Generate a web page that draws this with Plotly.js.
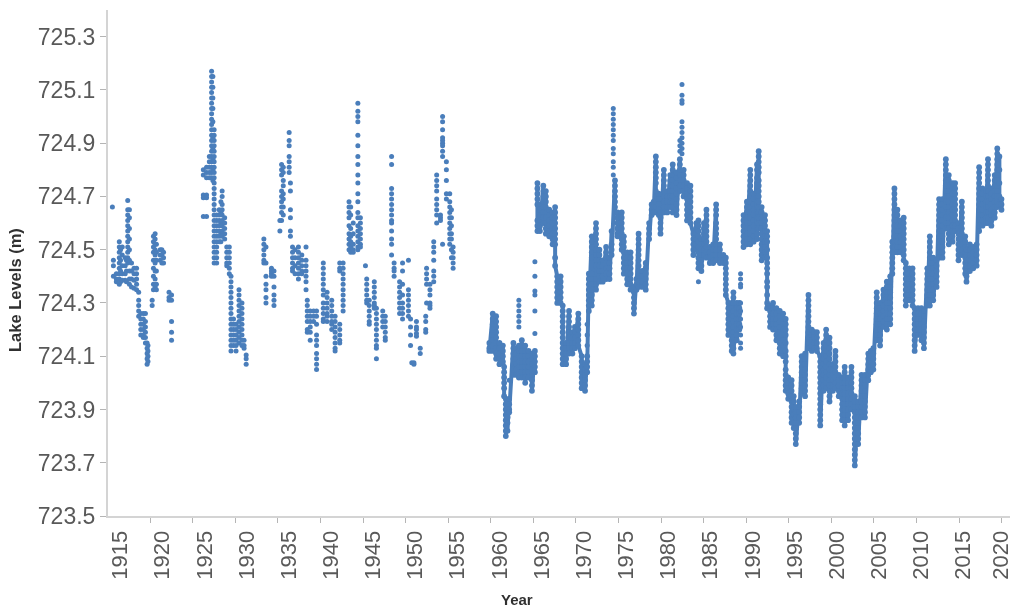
<!DOCTYPE html>
<html>
<head>
<meta charset="utf-8">
<script src="https://cdn.plot.ly/plotly-3.0.1.min.js"></script>
<style>html,body{margin:0;padding:0;background:#fff;overflow:hidden}#chart{filter:blur(0.55px)}</style>
</head>
<body>
<div id="chart" style="width:1011px;height:609px"></div>
<script>
const yearLabels = [1915,1920,1925,1930,1935,1940,1945,1950,1955,1960,1965,1970,1975,1980,1985,1990,1995,2000,2005,2010,2015,2020];
const labelPositions = [1915.25,1920.25,1925.25,1930.25,1935.25,1940.25,1945.25,1950.25,1955.25,1960.25,1965.25,1970.25,1975.25,1980.25,1985.25,1990.25,1995.25,2000.25,2005.25,2010.25,2015.25,2019.75];
const tickPositions = [1913.77,1918.82,1923.87,1928.92,1933.97,1939.02,1944.07,1949.12,1954.17,1959.22,1964.27,1969.32,1974.37,1979.42,1984.47,1989.52,1994.57,1999.62,2004.67,2009.72,2014.77,2019.82];
const levelLabels = [723.5,723.7,723.9,724.1,724.3,724.5,724.7,724.9,725.1,725.3];
// each entry: [year, [lake levels at that year]]
const levels1915 = [
[1914.33,[724.66]],[1914.45,[724.46,724.44,724.40]],[1914.8,[724.41,724.39,724.38]],
[1915.15,[724.53,724.51,724.49,724.47,724.45,724.43,724.41,724.39,724.37]],[1915.3,[724.5,724.46,724.42,724.38]],
[1915.5,[724.51,724.48,724.44,724.41,724.385]],[1915.85,[724.47,724.44,724.41,724.385]],[1916.0,[724.46,724.42,724.38]],
[1916.15,[724.685,724.65,724.63,724.61,724.59,724.57,724.55,724.53,724.51,724.49,724.47,724.45]],
[1916.35,[724.65,724.62,724.58,724.54,724.5,724.46,724.42,724.39,724.37]],[1916.6,[724.45,724.42,724.39,724.36]],
[1916.9,[724.43,724.41,724.385,724.355]],[1917.2,[724.43,724.41,724.39,724.37,724.35]],[1917.45,[724.34,724.31,724.29,724.27,724.25]],
[1917.7,[724.26,724.24,724.22,724.2,724.18]],[1918.0,[724.26,724.24,724.22,724.2,724.18,724.17]],[1918.25,[724.26,724.23,724.21,724.19,724.17,724.15]],
[1918.45,[724.15,724.13,724.11,724.09,724.07]],[1918.55,[724.14,724.12,724.1,724.08]],[1919.05,[724.31,724.29]],
[1919.2,[724.55,724.53,724.51,724.49,724.46,724.43,724.4,724.37,724.35]],[1919.4,[724.56,724.54,724.52,724.5,724.48,724.45,724.42,724.39,724.36]],
[1919.55,[724.52,724.49,724.46,724.42,724.37,724.35]],[1920.0,[724.5,724.48,724.46]],[1920.2,[724.5,724.48,724.45]],[1920.4,[724.49,724.47,724.45]],
[1921.05,[724.34,724.32,724.31]],[1921.35,[724.33,724.31,724.23,724.19,724.16]]
];
const levels1925 = [
[1925.12,[724.80,724.78,724.705,724.695,724.625]],[1925.5,[724.81,724.79,724.77,724.705,724.695,724.625]],[1925.83,[724.85,724.83,724.81,724.79,724.77]],
[1926.1,[725.17,725.15,725.13,725.11,725.09,725.07,725.05,725.03,725.01,724.99,724.97,724.95,724.93,724.91,724.89,724.87,724.85,724.83,724.81,724.79,724.77]],
[1926.25,[725.15,725.11,725.07,725.03,724.98,724.92,724.88,724.84,724.8,724.76]],
[1926.4,[724.95,724.93,724.91,724.89,724.87,724.85,724.83,724.81,724.79,724.77,724.75,724.73,724.71,724.69,724.67,724.65,724.63,724.61,724.59,724.57,724.55,724.53,724.51,724.49,724.47,724.45]],
[1926.7,[724.63,724.61,724.59,724.57,724.55,724.53,724.51,724.49,724.47,724.45]],[1927.0,[724.65,724.63,724.61,724.59,724.57,724.55,724.53]],
[1927.2,[724.68,724.64,724.6,724.56,724.53]],[1927.35,[724.72,724.70,724.67,724.65,724.63,724.61,724.59,724.57,724.55]],[1927.65,[724.62,724.6,724.58,724.56,724.54]],
[1927.9,[724.51,724.49,724.47,724.45,724.44]],[1928.2,[724.51,724.49,724.47,724.45,724.43,724.41]],
[1928.4,[724.4,724.38,724.36,724.34,724.32,724.3,724.28,724.26,724.24,724.22,724.2,724.18,724.16,724.14,724.12]],
[1928.7,[724.24,724.22,724.2,724.18,724.16,724.14]],[1929.0,[724.22,724.2,724.18,724.16,724.14,724.12]],
[1929.35,[724.35,724.33,724.31,724.29,724.27,724.25,724.23,724.21,724.19,724.17,724.15]],[1929.7,[724.3,724.28,724.26,724.24,724.22,724.2,724.18,724.16,724.14]],
[1929.95,[724.16,724.14,724.13]],[1930.2,[724.105,724.09,724.07]]
];
const levels1932 = [
[1932.3,[724.54,724.52,724.5,724.48,724.46,724.45]],[1932.55,[724.51,724.45,724.4,724.37,724.35,724.32,724.3]],[1933.2,[724.43,724.42,724.41,724.4]],
[1933.5,[724.42,724.4,724.36,724.33,724.31,724.29]],[1934.2,[724.61,724.57]],[1934.4,[724.82,724.8,724.78,724.72,724.7,724.68,724.66,724.64,724.61]],
[1934.6,[724.81,724.79,724.76,724.74,724.71,724.69,724.66,724.63]],[1935.3,[724.94,724.91,724.89,724.85,724.83,724.81,724.79]],
[1935.45,[724.75,724.72,724.65,724.62,724.57,724.55]],[1935.7,[724.51,724.49,724.47,724.45,724.43,724.42]],[1936.0,[724.5,724.47,724.44,724.41]],
[1936.4,[724.51,724.49,724.47,724.45,724.43,724.41,724.39]],[1936.8,[724.48,724.46,724.44,724.42,724.41]],[1937.3,[724.51,724.46,724.44,724.42,724.4,724.38,724.35]],
[1937.45,[724.31,724.29,724.27,724.25,724.23,724.2,724.19]],[1937.8,[724.27,724.25,724.23,724.21,724.19,724.16]],[1938.2,[724.27,724.25,724.23]],
[1938.55,[724.27,724.25,724.22,724.18,724.16,724.14,724.11,724.09,724.07,724.05]],[1939.35,[724.45,724.43,724.41,724.39,724.37,724.35,724.33,724.3,724.28,724.26,724.24,724.23]],
[1939.8,[724.34,724.32,724.3,724.28,724.26,724.25,724.23]],[1940.35,[724.31,724.29,724.27,724.25,724.23,724.22,724.2]],[1940.75,[724.25,724.23,724.21,724.19,724.17,724.15,724.13,724.12]],
[1941.3,[724.45,724.43,724.42,724.22,724.2,724.18,724.16,724.15]],[1941.7,[724.45,724.43,724.41,724.39,724.37,724.35,724.33,724.31,724.29,724.27]],
[1942.4,[724.68,724.66,724.64,724.62,724.59,724.56,724.54,724.52,724.5]],[1942.6,[724.66,724.63,724.58,724.55,724.53,724.51,724.49]],[1942.9,[724.6,724.56,724.52,724.5,724.49]],
[1943.45,[725.05,725.02,725.0,724.98,724.93,724.89,724.85,724.82,724.78,724.75,724.71,724.68,724.64,724.62,724.59,724.57,724.55,724.53,724.51,724.5]],
[1943.75,[724.62,724.6,724.58,724.56,724.54,724.52,724.51]],[1944.35,[724.44]],[1944.5,[724.39,724.37,724.35,724.33,724.31,724.3]],
[1944.8,[724.31,724.29,724.27,724.25,724.23,724.22]],[1945.4,[724.38,724.36,724.34,724.32,724.3,724.29,724.28]],[1945.65,[724.28,724.26,724.24,724.22,724.2,724.18,724.16,724.14,724.13,724.09]],
[1946.4,[724.27,724.25,724.23,724.21]],[1946.7,[724.25,724.23,724.21,724.19,724.17,724.16]],[1947.45,[724.85,724.82,724.73,724.71,724.69,724.67,724.65,724.63,724.61,724.6,724.57,724.54,724.52,724.48]],
[1947.75,[724.45,724.43,724.42,724.4]],[1948.4,[724.38,724.36,724.34,724.32,724.3,724.28,724.26]],[1948.75,[724.45,724.42,724.37,724.33,724.3,724.28,724.26,724.24]],
[1949.45,[724.46,724.35,724.33,724.31,724.29,724.27,724.25]],[1949.7,[724.24,724.21,724.18,724.14]],[1949.85,[724.075]],[1950.1,[724.07,724.075]],[1950.4,[724.185,724.175,724.23,724.21,724.2]],
[1950.85,[724.13,724.11]],[1951.5,[724.25,724.23,724.2,724.19]],[1951.6,[724.43,724.41,724.39,724.37,724.3]],[1952,[724.3,724.29,724.28,724.35,724.33,724.37]],
[1952.45,[724.53,724.51,724.49,724.46,724.42,724.4,724.38]],[1952.8,[724.78,724.76,724.74,724.72,724.69,724.67,724.65,724.63,724.6]],[1953.25,[724.63,724.62,724.61]],
[1953.5,[725.0,724.98,724.95,724.92,724.91,724.9,724.89,724.87,724.85,724.52]],[1953.95,[724.83,724.8,724.76,724.71,724.69]],
[1954.35,[724.71,724.68,724.66,724.64,724.62,724.6,724.58,724.56,724.54,724.52]],[1954.55,[724.65,724.62,724.59,724.56,724.54,724.5,724.47]],[1954.75,[724.51,724.49,724.47,724.45,724.43]]
];
// isolated readings in the otherwise dense years
const levelsIsolated = [
[1962.55,[724.31,724.29,724.27,724.25,724.23,724.21]],[1964.45,[724.455,724.4,724.345,724.33,724.27,724.185]],[1970.65,[724.22,724.18,724.14]],
[1973.75,[725.03,725.01,724.99,724.97,724.95,724.93,724.91,724.88,724.86,724.83,724.81,724.78]],
[1981.65,[724.91,724.89,724.87]],[1981.9,[725.12,725.08,725.06,725.05,724.98,724.96,724.94,724.92,724.9,724.88,724.86]],[1983.85,[724.38]],[1961.4,[724.01]]
];
const levels1988 = [[1988.85,[724.41,724.39,724.37,724.36,724.3,724.27,724.24,724.21,724.18,724.15,724.13]]];
const levels1959 = [
[1959.05,[724.15,724.13,724.12]],[1959.45,[724.26,724.24,724.22,724.2,724.18,724.16,724.14,724.12]],[1959.85,[724.25,724.23,724.21,724.19,724.17,724.15,724.13,724.11,724.09]],
[1960.25,[724.15,724.13,724.11,724.09,724.07]],[1960.65,[724.14,724.12,724.1,724.08]],[1960.8,[724.06,724.04,724.02,724.0,723.98,723.95]],
[1961.0,[723.94,723.92,723.9,723.88,723.86,723.84,723.82,723.8]],[1961.2,[723.93,723.91,723.89,723.87,723.85,723.82]],[1961.4,[723.94,723.92,723.9,723.89]],
[1961.9,[724.15,724.13,724.11,724.09,724.07,724.05,724.03]],[1962.2,[724.13,724.11,724.09,724.07,724.05,724.03]],[1962.55,[724.14,724.12,724.1,724.08,724.06,724.04,724.02]],
[1962.9,[724.16,724.14,724.12,724.1,724.08,724.06,724.04,724.02]],[1963.3,[724.14,724.12,724.1,724.08,724.06,724.04,724.02,724.0]],[1963.7,[724.12,724.1,724.08,724.06,724.04,724.02]],
[1964.1,[724.11,724.09,724.07,724.05,724.03,724.01,723.99,723.97]],[1964.45,[724.12,724.1,724.08,724.06,724.04]]
];
const levels1965 = [
[1964.75,[724.75,724.73,724.71,724.69,724.67,724.61,724.59,724.57]],[1965.05,[724.67,724.65,724.63,724.61,724.59,724.57]],[1965.45,[724.74,724.72,724.7,724.68,724.66,724.64,724.62,724.6]],
[1965.75,[724.72,724.7,724.68,724.66,724.64,724.62,724.6,724.58,724.56]],[1966.15,[724.65,724.63,724.61,724.59,724.57,724.55]],[1966.55,[724.64,724.62,724.6,724.58,724.56,724.54,724.52]],
[1966.85,[724.66,724.64,724.62,724.6,724.58,724.56,724.54,724.52,724.47,724.44]],[1967.1,[724.4,724.38,724.36,724.34,724.32,724.3]],[1967.5,[724.4,724.38,724.36,724.34,724.32,724.3]],
[1967.75,[724.29,724.27,724.25,724.23,724.21,724.19,724.17,724.15,724.13,724.11,724.09,724.07]],[1968.15,[724.15,724.13,724.11,724.09,724.07]],
[1968.5,[724.27,724.25,724.23,724.21,724.19,724.17,724.15,724.13,724.11]],[1968.9,[724.19,724.17,724.15,724.13,724.11]],[1969.2,[724.21,724.19,724.17,724.15,724.13]],
[1969.6,[724.26,724.24,724.22,724.2,724.18,724.16,724.14]],[1970.0,[724.1,724.08,724.06,724.04,724.02,724.0,723.98]],[1970.4,[724.07,724.05,724.03,724.01,723.99,723.97]],
[1970.65,[724.1,724.08,724.06,724.04]],[1970.85,[724.41,724.39,724.37,724.35,724.33,724.31,724.29,724.27]],[1971.2,[724.55,724.53,724.51,724.49,724.47,724.41,724.39,724.37,724.35,724.33,724.31,724.29]],
[1971.7,[724.6,724.58,724.56,724.54,724.52,724.5,724.48,724.46,724.44,724.39,724.37,724.35]],[1972.1,[724.5,724.48,724.46,724.44,724.42,724.4,724.38]],[1972.5,[724.46,724.44,724.42,724.4,724.38]],
[1972.9,[724.51,724.49,724.47,724.45,724.43,724.41,724.39]],[1973.3,[724.47,724.45,724.43,724.41,724.39]],[1973.55,[724.57,724.52,724.5,724.48]],
[1973.95,[724.76,724.74,724.72,724.7,724.68,724.66,724.64]],
[1974.25,[724.64,724.62,724.6,724.58,724.56,724.55]],[1974.75,[724.64,724.62,724.6,724.58,724.56,724.54,724.52,724.5]],[1975.0,[724.55,724.53,724.51,724.49,724.47,724.45,724.43,724.41]],
[1975.4,[724.49,724.47,724.45,724.43,724.41,724.39,724.37]],[1975.8,[724.49,724.47,724.45,724.43,724.41,724.39,724.37,724.35]],[1976.2,[724.36,724.34,724.32,724.3,724.28,724.26]],
[1976.5,[724.39,724.37,724.35]],[1976.75,[724.56,724.54,724.52,724.5,724.48,724.46,724.44,724.42,724.4,724.38,724.36]],[1977.2,[724.42,724.4,724.38,724.36]],
[1977.6,[724.45,724.43,724.41,724.39,724.37,724.35]],[1978.0,[724.6,724.58,724.56,724.54]],[1978.3,[724.67,724.65,724.63]],[1978.55,[724.68,724.66,724.64]],
[1978.8,[724.85,724.83,724.81,724.79,724.77,724.75,724.72,724.7,724.68,724.66,724.64]],[1979.15,[724.71,724.69,724.67,724.65,724.63]],[1979.35,[724.64,724.62,724.6,724.58,724.56]],
[1979.75,[724.8,724.78,724.76,724.74,724.72,724.7,724.68,724.66,724.64]],[1980.15,[724.72,724.7,724.68,724.66,724.64]],[1980.5,[724.78,724.76,724.74,724.72,724.7,724.68,724.66]],
[1980.8,[724.82,724.8,724.78,724.76,724.74,724.72,724.7,724.68,724.66,724.64]],[1981.25,[724.79,724.77,724.75,724.73,724.71,724.69,724.67,724.65,724.63]],
[1981.65,[724.84,724.82,724.8,724.78,724.76,724.74,724.72]],
[1982.1,[724.8,724.78,724.76,724.74,724.72,724.7]],[1982.5,[724.75,724.73,724.71,724.69,724.67,724.65,724.63,724.61]],[1982.9,[724.74,724.72,724.7,724.68,724.66,724.64,724.62,724.6]],
[1983.25,[724.56,724.54,724.52,724.5,724.48]],[1983.6,[724.6,724.58,724.56,724.54,724.52,724.5]],[1983.85,[724.61,724.59,724.57,724.55,724.53,724.51,724.49,724.47,724.45,724.43]],
[1984.2,[724.54,724.52,724.5,724.48,724.46,724.44,724.42]],[1984.5,[724.6,724.58,724.56,724.54,724.52,724.5,724.48]],[1984.8,[724.65,724.63,724.61,724.59,724.57,724.55,724.53,724.51,724.49,724.47]],
[1985.2,[724.51,724.49,724.47,724.45]],[1985.6,[724.52,724.5,724.48,724.46,724.45]],[1985.95,[724.67,724.65,724.63,724.6,724.58,724.56,724.54,724.52,724.5,724.48,724.46]],
[1986.4,[724.52,724.5,724.48,724.46,724.45]],[1986.8,[724.48,724.46,724.45]],[1987.1,[724.47,724.45,724.43,724.41,724.39,724.37,724.35,724.33]],[1987.4,[724.3,724.28,724.26,724.24,724.22,724.2,724.18]],
[1987.8,[724.3,724.28,724.26,724.24,724.22,724.2,724.18,724.16,724.14,724.12]],[1988.0,[724.34,724.32,724.3,724.27,724.25,724.23,724.21,724.19,724.17,724.15,724.13,724.11]],
[1988.4,[724.3,724.28,724.26,724.24,724.22,724.2,724.18,724.16]],[1988.7,[724.3,724.28,724.26,724.24,724.22,724.2]]
];
const levels1989 = [
[1989.2,[724.63,724.61,724.59,724.57,724.55,724.53,724.51]],[1989.6,[724.68,724.66,724.64,724.62,724.6,724.58,724.56,724.54,724.52]],
[1990.0,[724.8,724.78,724.76,724.74,724.72,724.7,724.68,724.66,724.64,724.62,724.6,724.58,724.56,724.54,724.52]],[1990.4,[724.71,724.69,724.67,724.65,724.63,724.61,724.59,724.57,724.55,724.53]],
[1990.8,[724.82,724.8,724.77,724.75,724.72,724.7,724.68,724.66,724.64,724.62,724.6,724.58,724.56,724.54]],[1991.0,[724.87,724.85,724.83,724.81,724.79,724.76,724.74,724.72,724.7,724.68,724.66,724.64,724.62,724.6,724.58]],
[1991.35,[724.66,724.64,724.62,724.6,724.58,724.56,724.54,724.52,724.5,724.48,724.46]],[1991.75,[724.63,724.61,724.59,724.57,724.55,724.53,724.51,724.49,724.47]],
[1992.0,[724.57,724.55,724.53,724.5,724.47,724.45,724.43,724.41,724.38,724.36,724.33,724.3,724.28]],[1992.35,[724.29,724.27,724.25,724.23,724.21]],[1992.7,[724.3,724.28,724.26,724.24,724.22,724.2]],
[1993.1,[724.28,724.26,724.24,724.22,724.2,724.18,724.16]],[1993.5,[724.27,724.25,724.23,724.21,724.19,724.17,724.15,724.13,724.11]],[1993.9,[724.26,724.24,724.22,724.2,724.18,724.16,724.14,724.12,724.1]],
[1994.2,[724.24,724.22,724.2,724.18,724.15,724.12,724.1,724.08,724.05,724.03,724.01,723.99,723.97]],[1994.5,[724.02,724.0,723.98,723.96,723.94]],[1994.9,[724.01,723.99,723.97,723.95,723.93,723.91,723.89,723.87,723.85]],
[1995.15,[723.95,723.93,723.9,723.88,723.85,723.83]],[1995.4,[723.91,723.89,723.87,723.85,723.83,723.81,723.79,723.77]],[1995.8,[723.93,723.91,723.89,723.87,723.85]],
[1996.1,[724.1,724.08,724.06,724.04,724.02,724.0,723.98,723.96]],[1996.5,[724.11,724.09,724.07,724.05,724.03,724.01,723.99,723.97,723.95]],
[1996.9,[724.33,724.31,724.29,724.27,724.25,724.23,724.21,724.19,724.17,724.15,724.13]],[1997.3,[724.2,724.18,724.16,724.14,724.12]],[1997.6,[724.19,724.17,724.15,724.13]],[1997.9,[724.19,724.17,724.15,724.13,724.12]],
[1998.3,[724.1,724.08,724.06,724.04,724.02,724.0,723.98,723.96,723.94,723.92,723.9,723.88,723.86,723.84]],[1998.7,[724.15,724.13,724.11,724.09,724.07,724.05,724.03,724.01,723.99,723.97]],
[1999.0,[724.2,724.18,724.16,724.14,724.12,724.1,724.08,724.06,724.04,724.02,724.0,723.98]],[1999.4,[724.17,724.15,724.13,724.11,724.09,724.07,724.05,724.03,724.01,723.99,723.97,723.95,723.93]],
[1999.8,[724.07,724.05,724.03,724.01,723.99,723.97]],[2000.1,[724.12,724.1,724.08,724.06,724.04,724.02,724.0,723.98]],[2000.5,[724.03,724.01,723.99,723.97,723.95]],
[2000.9,[724.02,724.0,723.98,723.96,723.94,723.92,723.9,723.88,723.86]],[2001.2,[724.06,724.04,724.02,724.0,723.98,723.96,723.94,723.92,723.9,723.88,723.86,723.84]],
[2001.6,[724.02,724.0,723.98,723.96,723.94,723.92,723.9,723.88,723.86]],[2002.0,[724.06,724.04,724.02,724.0,723.98,723.96,723.94,723.92,723.9]],
[2002.4,[723.95,723.93,723.91,723.89,723.87,723.85,723.83,723.81,723.79,723.77,723.75,723.73,723.71,723.69]],[2002.8,[723.93,723.91,723.89,723.87,723.85,723.83,723.81,723.79,723.77]],
[2003.2,[724.03,724.01,723.99,723.97,723.95,723.93,723.91,723.89,723.87]],[2003.6,[724.03,724.01,723.99,723.97,723.95,723.93,723.91,723.89,723.87]],[2004.0,[724.11,724.09,724.07,724.05,724.03,724.01]],
[2004.3,[724.12,724.1,724.08,724.06,724.04]],[2004.6,[724.13,724.11,724.09,724.07,724.05]],[2005.0,[724.34,724.32,724.3,724.28,724.26,724.24,724.22,724.2,724.18,724.16]],
[2005.4,[724.3,724.28,724.26,724.24,724.22,724.2,724.18,724.16,724.14]],[2005.8,[724.35,724.33,724.31,724.29,724.27,724.25,724.23,724.21]],[2006.2,[724.38,724.36,724.34,724.32,724.3,724.28,724.26,724.24,724.22,724.2]],
[2006.6,[724.4,724.38,724.36,724.34,724.32,724.3,724.28,724.26,724.24,724.22]],[2006.85,[724.53,724.51,724.49,724.47,724.45,724.43,724.41]],
[2007.1,[724.73,724.71,724.69,724.67,724.65,724.63,724.61,724.59,724.57,724.55,724.53,724.51,724.49]],[2007.45,[724.65,724.63,724.61,724.59,724.57,724.55,724.53,724.51,724.49]],
[2007.85,[724.61,724.59,724.57,724.55,724.53,724.51,724.49]],[2008.2,[724.62,724.6,724.58,724.56,724.54,724.52,724.5,724.48,724.46]],[2008.45,[724.45,724.43,724.41,724.39,724.37,724.35,724.33,724.31,724.29]],
[2008.85,[724.43,724.41,724.39,724.37,724.35,724.33,724.31]],[2009.25,[724.43,724.41,724.39,724.37,724.35,724.33,724.31,724.29]],[2009.5,[724.28,724.26,724.24,724.22,724.2,724.18,724.16,724.14,724.12]],
[2009.9,[724.28,724.26,724.24,724.22,724.2,724.18]],[2010.3,[724.28,724.26,724.24,724.22,724.2,724.18,724.16]],[2010.6,[724.27,724.25,724.23,724.21,724.19,724.17,724.15,724.13]],
[2011.0,[724.43,724.41,724.39,724.37,724.35,724.33,724.31,724.29]],[2011.3,[724.55,724.53,724.51,724.49,724.47,724.45,724.43,724.41,724.39,724.37,724.35,724.33,724.31,724.29]],
[2011.7,[724.47,724.45,724.43,724.41,724.39,724.37,724.35,724.33,724.31]],[2012.1,[724.46,724.44,724.42,724.4,724.38,724.36]],
[2012.4,[724.69,724.67,724.65,724.63,724.61,724.59,724.57,724.55,724.53,724.51,724.49,724.47]],[2012.8,[724.69,724.67,724.65,724.63,724.61,724.59,724.57,724.55,724.53,724.51,724.49,724.47]],
[2013.2,[724.84,724.82,724.8,724.78,724.76,724.74,724.72,724.7,724.68,724.66,724.64,724.62,724.6,724.58]],[2013.55,[724.78,724.76,724.74,724.72,724.7,724.68,724.66,724.64,724.62,724.6,724.58,724.56,724.54,724.52]],
[2014.0,[724.75,724.73,724.71,724.69,724.67,724.65,724.63,724.61,724.59,724.57,724.55,724.53]],[2014.3,[724.75,724.73,724.71,724.69,724.67,724.65,724.63,724.61,724.59,724.57]],
[2014.7,[724.6,724.58,724.56,724.54,724.52,724.5,724.48,724.46]],[2015.1,[724.68,724.66,724.64,724.62,724.6,724.58,724.56,724.54,724.52,724.5,724.48]],[2015.5,[724.55,724.53,724.51,724.49,724.47,724.45,724.43,724.41]],
[2015.65,[724.5,724.48,724.46,724.44,724.42,724.4,724.38]],[2016.05,[724.52,724.5,724.48,724.46,724.44,724.42]],[2016.45,[724.51,724.49,724.47,724.45,724.43]],[2016.85,[724.52,724.5,724.48,724.46,724.44]],
[2017.15,[724.81,724.79,724.77,724.75,724.73,724.71,724.69,724.67,724.65,724.63,724.61,724.59,724.57]],[2017.55,[724.73,724.71,724.69,724.67,724.65,724.63,724.61,724.59]],[2017.95,[724.72,724.7,724.68,724.66,724.64,724.62,724.6]],
[2018.2,[724.84,724.82,724.8,724.78,724.76,724.74,724.72,724.7,724.68,724.66,724.64,724.62,724.6]],[2018.6,[724.73,724.71,724.69,724.67,724.65,724.63,724.61,724.59]],
[2019.0,[724.78,724.76,724.74,724.72,724.7,724.68,724.66,724.64,724.62]],[2019.3,[724.88,724.86,724.84,724.82,724.8,724.78,724.76,724.74,724.72,724.7,724.68,724.66]],[2019.55,[724.85,724.8,724.75,724.7,724.67]],[2019.8,[724.69,724.67,724.65]]
];

const years = [], levels = [], bandYears = [], bandLevels = [];
[levels1915, levels1925, levels1932, levelsIsolated, levels1988].forEach(function (group) {
  group.forEach(function (col) {
    col[1].forEach(function (v) { years.push(col[0]); levels.push(v); });
  });
});
[levels1959, levels1965, levels1989].forEach(function (group) {
  group.forEach(function (col) {
    col[1].forEach(function (v) { bandYears.push(col[0]); bandLevels.push(v); });
  });
  bandYears.push(null); bandLevels.push(null);
});

const axisGray = '#d4d4d4', tickGray = '#b5b5b5', textGray = '#595959', titleGray = '#303030', pointBlue = '#4a7ebb';
const fontFamily = 'Liberation Sans, Arial, sans-serif';
const plotLeft = 108, plotRight = 1010, plotTop = 10, plotBottom = 516;

Plotly.newPlot('chart', [
  { type: 'scatter', mode: 'lines+markers', x: bandYears, y: bandLevels, line: { color: pointBlue, width: 4 }, marker: { color: pointBlue, size: 5.8, line: { width: 0 } }, hoverinfo: 'x+y', connectgaps: false },
  { type: 'scatter', mode: 'markers', x: years, y: levels, marker: { color: pointBlue, size: 5, line: { width: 0 } }, hoverinfo: 'x+y' }
], {
  width: 1011, height: 609,
  margin: { l: plotLeft, r: 1011 - plotRight, t: plotTop, b: 609 - plotBottom, pad: 0 },
  paper_bgcolor: '#fff', plot_bgcolor: '#fff', showlegend: false,
  font: { family: fontFamily, color: textGray },
  xaxis: {
    range: [1913.81, 2020.81], tickmode: 'array', tickvals: labelPositions, ticktext: yearLabels.map(String),
    tickangle: -90, tickfont: { size: 22, color: textGray }, ticks: '', ticklen: 0, ticklabelstandoff: 4, ticklabeloverflow: 'allow',
    showgrid: false, zeroline: false, showline: true, linecolor: axisGray, linewidth: 2,
    minor: { tickmode: 'array', tickvals: tickPositions, ticks: 'outside', ticklen: 5, tickcolor: tickGray, tickwidth: 1, showgrid: false }
  },
  yaxis: {
    range: [723.5, 725.4], tickmode: 'array', tickvals: levelLabels, ticktext: levelLabels.map(function (v) { return v.toFixed(1); }),
    tickfont: { size: 23, color: textGray }, ticks: 'outside', ticklen: 6, tickcolor: tickGray, showgrid: false, zeroline: false,
    showline: true, linecolor: axisGray, linewidth: 2
  },
  annotations: [
    { xref: 'paper', yref: 'paper', x: (517 - plotLeft) / (plotRight - plotLeft), y: (plotBottom - 599) / (plotBottom - plotTop), text: '<b>Year</b>', showarrow: false,
      xanchor: 'center', yanchor: 'middle', font: { size: 15, color: titleGray, family: fontFamily } },
    { xref: 'paper', yref: 'paper', x: (15 - plotLeft) / (plotRight - plotLeft), y: (plotBottom - 290) / (plotBottom - plotTop), text: '<b>Lake Levels (m)</b>', showarrow: false,
      textangle: -90, xanchor: 'center', yanchor: 'middle', font: { size: 16.5, color: titleGray, family: fontFamily } }
  ]
}, { displayModeBar: false, staticPlot: true });
</script>
</body>
</html>
